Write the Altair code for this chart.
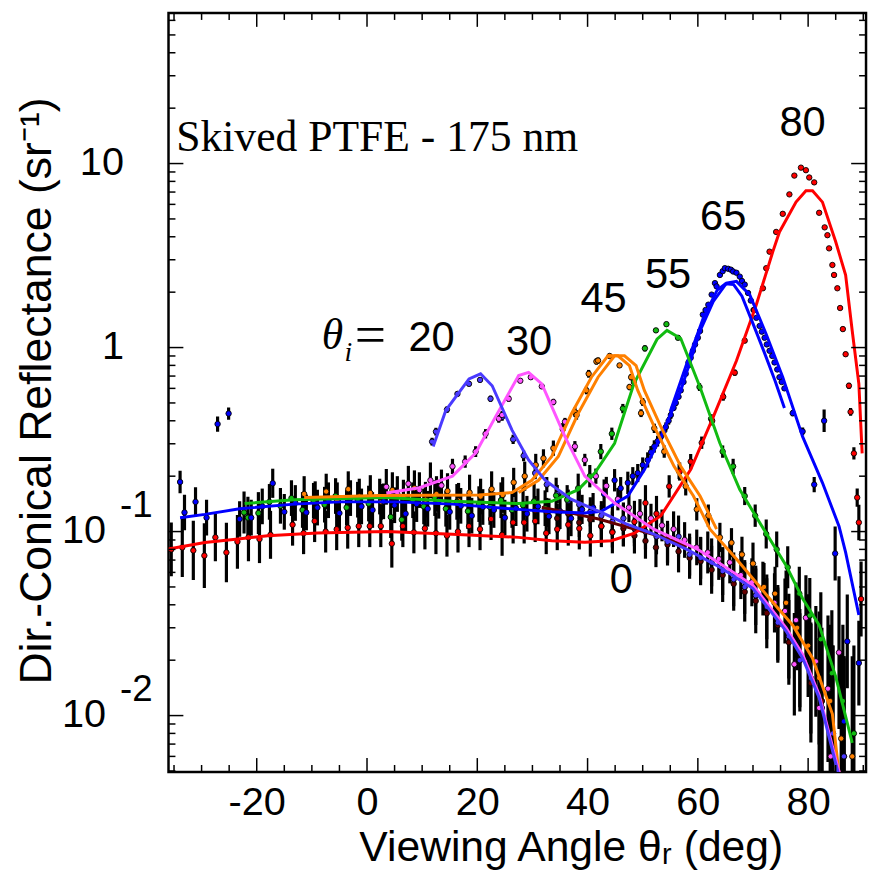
import altair as alt
import pandas as pd

# ---------------- data ----------------
# 80 deg incidence
X80 = [-35.5,-33.5,-31.5,-29.5,-27.5,-25.5,-23.5,-21.5,-19.5,-17.5,-13.5,-11.5,-9.5,-7.5,-5.5,-3.5,-1.5,0.5,2.5,4.5,
       6.5,8.5,10.5,12.5,14.5,16.5,18.5,20.5,22.5,24.5,26.5,28.5,30.5,32.5,34.5,36.5,38.5,40.5,42.5,44.5,
       46.5,48.5,50.5,52.5,54.8,56.7,58.7,60.7,62.6,64.6,66.7,68.5,70.2,71.8,72.4,73.0,74.2,75.4,76.6,77.5,
       78.7,79.6,80.2,81.1,82.0,83.0,83.5,83.8,84.4,84.7,85.3,85.8,86.3,86.8,87.4,87.7,88.3,88.9,89.2,89.6]
V80 = [0.080,0.082,0.079,0.074,0.093,0.077,0.088,0.093,0.091,0.096,0.109,0.098,0.114,0.100,0.103,0.105,0.107,0.107,0.107,0.086,
       0.107,0.099,0.104,0.098,0.095,0.100,0.107,0.103,0.117,0.096,0.112,0.112,0.114,0.098,0.103,0.109,0.104,0.095,0.107,0.099,
       0.108,0.113,0.143,0.125,0.176,0.212,0.240,0.304,0.400,0.540,0.730,1.09,1.60,2.10,2.70,3.32,4.25,5.33,6.80,8.60,
       9.50,9.20,8.40,7.90,5.40,4.50,4.08,3.46,2.81,2.48,2.10,1.64,1.26,0.92,0.62,0.447,0.266,0.153,0.112,0.043]
E80 = [1.40,1.45,1.45,1.50,1.35,1.45,1.40,1.35,1.35,1.35,1.30,1.30,1.30,1.30,1.30,1.30,1.30,1.30,1.30,1.35,
       1.30,1.30,1.30,1.30,1.30,1.30,1.30,1.30,1.30,1.30,1.30,1.30,1.30,1.30,1.30,1.30,1.30,1.30,1.30,1.30,
       1.30,1.30,1.25,1.25,1.15,1.12,1.10,1.08,1.06,1.05,1.04,1.03,1.02,1.02,1.02,1.02,1.02,1.02,1.02,1.02,
       1.02,1.02,1.02,1.02,1.02,1.02,1.02,1.02,1.02,1.02,1.02,1.02,1.03,1.03,1.04,1.05,1.08,1.12,1.25,1.6]
FX80 = [-36.0,-29.4,-23.4,-18.0,-9.0,3.5,15.5,27.5,33.5,39.5,44.3,48.5,53.3,58.7,62.8,67.0,70.6,73.6,74.8,77.8,
        79.6,80.8,82.6,85.0,86.8,88.0,89.2,89.8]
FV80 = [0.0804,0.0873,0.0911,0.0948,0.0983,0.100,0.0968,0.0930,0.0892,0.0874,0.0892,0.098,0.122,0.217,0.420,0.848,1.71,3.32,4.25,6.17,
        7.12,7.12,6.17,3.76,2.48,1.23,0.635,0.266]

# 65 deg incidence
X65 = [-33.9,-33.1,-31.1,-29.1,-27.1,-25.1,-23.1,-21.0,-19.0,-17.1,-15.0,-13.0,-11.0,-9.0,-7.0,-5.0,-3.0,-1.0,1.0,3.0,
       5.0,7.0,9.0,11.0,13.0,15.0,17.0,19.0,21.0,23.0,25.0,27.0,29.0,31.0,33.0,35.0,37.0,39.0,41.0,43.0,
       44.9,46.0,47.3,48.2,49.1,50.0,50.9,51.5,52.1,52.7,53.3,53.8,54.2,54.7,55.1,55.6,56.0,56.5,56.9,57.4,
       57.8,58.3,58.7,59.1,59.5,60.0,60.4,60.9,61.4,61.9,62.5,63.1,63.4,64.0,64.5,64.9,65.5,66.0,66.4,67.0,
       67.6,68.0,68.5,69.1,69.6,70.1,70.6,71.2,71.6,72.1,72.5,73.0,73.5,73.9,74.4,74.8,75.2,75.7,77.2,79.0,
       81.1,82.9,84.9,86.5,87.1,89.2]
V65 = [0.186,0.127,0.145,0.119,0.384,0.438,0.117,0.119,0.137,0.183,0.128,0.143,0.127,0.135,0.148,0.126,0.152,0.137,0.131,0.146,
       0.139,0.125,0.141,0.133,0.147,0.128,0.138,0.122,0.136,0.131,0.119,0.134,0.125,0.137,0.121,0.129,0.118,0.132,0.135,0.160,
       0.190,0.172,0.184,0.200,0.208,0.230,0.245,0.270,0.290,0.310,0.328,0.350,0.370,0.400,0.430,0.470,0.500,0.540,0.585,0.650,
       0.720,0.800,0.880,0.960,1.04,1.13,1.23,1.51,1.60,1.71,1.94,2.24,2.15,2.48,2.60,2.70,2.68,2.65,2.59,2.55,
       2.43,2.30,2.20,1.98,1.80,1.60,1.45,1.31,1.22,1.13,1.04,0.96,0.90,0.83,0.76,0.69,0.65,0.60,0.44,0.35,
       0.18,0.40,0.076,0.0093,0.0253,0.0193]
E65 = [1.15,1.25,1.20,1.25,1.10,1.08,1.25,1.25,1.25,1.20,1.25,1.25,1.25,1.25,1.25,1.25,1.25,1.25,1.25,1.25,
       1.25,1.25,1.25,1.25,1.25,1.25,1.25,1.25,1.25,1.25,1.25,1.25,1.25,1.25,1.25,1.25,1.25,1.20,1.20,1.20,
       1.15,1.15,1.15,1.12,1.12,1.10,1.10,1.08,1.08,1.07,1.07,1.06,1.06,1.05,1.05,1.04,1.04,1.03,1.03,1.03,
       1.02,1.02,1.02,1.02,1.02,1.02,1.02,1.02,1.02,1.02,1.02,1.02,1.02,1.02,1.02,1.02,1.02,1.02,1.02,1.02,
       1.02,1.02,1.02,1.02,1.02,1.02,1.02,1.02,1.02,1.02,1.02,1.02,1.02,1.02,1.02,1.02,1.03,1.03,1.04,1.05,
       1.10,1.15,1.40,2.20,1.80,1.70]
FX65 = [-33.9,-29.4,-23.1,-13.2,-4.9,5.3,15.5,27.5,33.5,39.5,42.5,47.3,50.3,53.3,56.9,60.4,62.8,65.2,67.0,69.4,
        72.4,75.4,79.0,82.6,85.6,86.8,89.2]
FV65 = [0.119,0.124,0.133,0.141,0.145,0.145,0.141,0.132,0.128,0.126,0.129,0.156,0.217,0.328,0.585,1.23,1.78,2.24,2.29,1.94,
        1.18,0.69,0.328,0.184,0.107,0.077,0.0352]
FX65B = [55.0,58.0,61.0,63.5,65.0,66.5,68.0,70.0,72.0,74.0,75.7]
FV65B = [0.45,0.82,1.45,2.05,2.22,2.20,1.90,1.35,0.95,0.66,0.47]

# 55 deg incidence
X55 = [-22.3,-21.6,-19.7,-17.7,-15.7,-13.7,-11.7,-9.7,-7.7,-5.7,-3.7,-1.7,0.3,2.3,4.3,6.3,8.3,10.3,12.3,14.3,
       16.3,18.3,20.3,22.3,24.3,26.3,28.3,30.3,32.3,34.3,36.3,38.3,40.4,42.4,44.4,46.4,48.4,50.4,52.4,54.3,
       56.4,58.3,60.3,62.4,64.5,66.4,68.5,70.4,72.4,74.3,76.3,78.4,80.3,82.3,84.3,86.3,88.3]
V55 = [0.127,0.119,0.126,0.145,0.138,0.152,0.131,0.147,0.140,0.156,0.135,0.149,0.142,0.155,0.120,0.116,0.148,0.137,0.152,0.133,
       0.145,0.129,0.141,0.136,0.148,0.131,0.139,0.146,0.134,0.157,0.149,0.172,0.200,0.272,0.340,0.466,0.650,0.990,1.24,1.34,
       1.13,0.83,0.61,0.41,0.272,0.226,0.156,0.122,0.097,0.080,0.064,0.046,0.035,0.026,0.017,0.012,0.008]
E55 = [1.30,1.30,1.30,1.25,1.25,1.25,1.25,1.25,1.25,1.25,1.25,1.25,1.25,1.25,1.30,1.30,1.25,1.25,1.25,1.25,
       1.25,1.25,1.25,1.25,1.25,1.25,1.25,1.25,1.25,1.25,1.20,1.20,1.15,1.10,1.08,1.06,1.05,1.04,1.03,1.03,
       1.03,1.04,1.05,1.06,1.08,1.10,1.12,1.15,1.20,1.25,1.30,1.40,1.60,1.80,2.20,2.60,3.00]
FX55 = [-22.2,-13.2,3.5,15.5,27.5,33.5,38.3,41.3,44.9,48.4,52.6,54.4,56.9,60.4,64.0,67.6,71.2,76.0,79.0,82.0,85.0,88.0]
FV55 = [0.142,0.149,0.153,0.146,0.142,0.146,0.169,0.208,0.302,0.635,1.11,1.24,1.12,0.609,0.302,0.169,0.112,0.0654,0.0433,0.031,0.0163,0.0071]

# 45 deg incidence
X45 = [-11.4,-9.4,-7.4,-5.4,-3.4,-1.4,0.6,2.6,4.6,6.6,8.6,10.6,12.6,14.6,16.6,18.6,20.6,22.6,24.6,26.6,
       28.6,30.6,32.0,33.8,35.5,37.7,38.0,39.8,40.2,41.6,41.9,44.0,45.8,47.6,47.9,49.7,50.0,52.1,53.9,56.6,
       57.8,59.8,61.9,64.0,66.1,68.0,70.0,72.0,74.0,76.0,78.0,80.0,82.0,84.0,86.0,88.0]
V45 = [0.160,0.150,0.165,0.148,0.170,0.155,0.162,0.145,0.168,0.153,0.172,0.149,0.160,0.166,0.147,0.163,0.155,0.170,0.158,0.185,
       0.200,0.230,0.250,0.284,0.360,0.446,0.430,0.585,0.720,0.840,0.850,0.900,0.800,0.610,0.690,0.440,0.506,0.364,0.272,0.212,
       0.176,0.132,0.122,0.093,0.087,0.075,0.067,0.050,0.046,0.041,0.030,0.024,0.016,0.012,0.0075,0.006]
E45 = [1.25,1.25,1.25,1.25,1.25,1.25,1.25,1.25,1.25,1.25,1.25,1.25,1.25,1.25,1.25,1.25,1.25,1.25,1.25,1.20,
       1.20,1.15,1.12,1.10,1.08,1.06,1.06,1.05,1.05,1.04,1.04,1.03,1.03,1.04,1.04,1.05,1.05,1.06,1.08,1.10,
       1.12,1.15,1.15,1.20,1.20,1.25,1.30,1.35,1.40,1.50,1.70,1.90,2.30,2.60,3.00,3.50]
FX45 = [-11.4,2.3,20.3,26.3,29.9,33.5,37.1,40.7,43.7,45.5,47.6,49.1,52.1,55.7,59.2,62.2,67.0,73.0,77.2,80.8,84.4,85.6]
FV45 = [0.153,0.157,0.158,0.163,0.190,0.256,0.438,0.690,0.902,0.902,0.797,0.585,0.371,0.226,0.156,0.103,0.071,0.0433,0.031,0.0205,0.0102,0.0048]
FX45B = [27.5,31.1,34.7,38.3,41.9,44.9,46.7,48.8,50.3,53.3,56.9,60.4,63.4]
FV45B = [0.163,0.190,0.256,0.438,0.690,0.902,0.902,0.797,0.585,0.371,0.226,0.156,0.103]

# 30 deg incidence
X30 = [3.5,5.5,7.5,9.5,11.5,13.5,15.5,17.8,19.7,21.5,23.9,24.5,25.7,27.8,29.7,31.7,33.8,35.9,37.7,39.5,
       41.5,43.4,45.5,47.5,49.5,51.5,53.5,55.6,57.6,59.8,61.8,63.8,65.8,67.8,69.8,71.8,73.9,75.8,77.8,79.6,
       77.5,81.4,82.0,83.6,85.6,84.1]
V30 = [0.175,0.160,0.182,0.168,0.190,0.178,0.226,0.240,0.272,0.340,0.410,0.430,0.527,0.660,0.690,0.615,0.506,0.395,0.290,0.245,
       0.200,0.177,0.150,0.135,0.125,0.118,0.108,0.103,0.090,0.082,0.077,0.071,0.068,0.058,0.053,0.049,0.041,0.037,0.033,0.034,
       0.019,0.0197,0.011,0.014,0.022,0.006]
E30 = [1.25,1.25,1.25,1.25,1.25,1.22,1.10,1.08,1.07,1.06,1.05,1.05,1.04,1.03,1.03,1.03,1.04,1.05,1.07,1.08,
       1.10,1.12,1.15,1.20,1.20,1.20,1.22,1.25,1.25,1.25,1.30,1.30,1.30,1.35,1.35,1.40,1.45,1.50,1.60,1.70,
       1.90,2.00,2.40,2.50,2.60,3.00]
FX30 = [3.5,9.5,15.5,19.7,23.3,27.5,29.3,31.7,35.9,39.5,44.9,52.0,59.8,64.0,70.0,76.0,79.0,82.0,85.0,86.0]
FV30 = [0.162,0.173,0.200,0.267,0.420,0.704,0.733,0.635,0.328,0.200,0.143,0.103,0.0806,0.067,0.051,0.030,0.0215,0.013,0.0058,0.0045]

# 20 deg incidence
X20 = [11.8,12.5,14.5,16.4,18.5,20.5,22.4,24.5,26.5,28.4,30.5,32.6,34.5,36.5,38.5,40.5,42.5,44.5,46.5,48.5,
       50.5,52.5,54.5,56.5,58.5,60.5,62.5,64.5,66.5,68.5,70.5,72.5,74.5,76.5,78.5,80.5,82.5,84.5,86.5]
V20 = [0.308,0.349,0.460,0.560,0.635,0.667,0.527,0.420,0.317,0.258,0.208,0.180,0.160,0.147,0.140,0.128,0.122,0.113,0.118,0.104,
       0.100,0.094,0.088,0.094,0.075,0.072,0.068,0.061,0.055,0.050,0.045,0.039,0.032,0.027,0.020,0.016,0.011,0.008,0.006]
E20 = [1.05,1.05,1.04,1.03,1.03,1.03,1.04,1.05,1.06,1.07,1.08,1.10,1.12,1.15,1.20,1.20,1.20,1.22,1.22,1.25,
       1.25,1.25,1.30,1.30,1.30,1.30,1.35,1.35,1.40,1.40,1.45,1.50,1.60,1.70,1.80,2.00,2.50,3.00,3.50]
FX20 = [12.0,14.3,18.5,20.6,22.7,26.3,29.3,32.3,37.0,42.5,47.0,52.0,58.0,64.0,70.0,76.0,79.0,82.0,85.0,85.6]
FV20 = [0.290,0.456,0.676,0.720,0.620,0.356,0.245,0.190,0.150,0.127,0.110,0.097,0.080,0.064,0.049,0.0288,0.0205,0.0125,0.0055,0.0047]

# 0 deg incidence
X0 = [30.5,32.6,34.5,36.5,38.5,40.5,42.5,44.5,46.5,48.5,50.5,52.4,54.5,56.5,58.5,60.5,62.5,64.5,66.5,68.5,
      70.5,72.5,74.5,76.5,78.5,80.5,82.5,84.5,86.5]
V0 = [0.130,0.127,0.118,0.125,0.112,0.116,0.107,0.100,0.104,0.095,0.089,0.082,0.085,0.078,0.072,0.069,0.062,0.058,0.052,0.047,
      0.042,0.036,0.031,0.025,0.020,0.015,0.012,0.008,0.006]
E0 = [1.20,1.20,1.20,1.20,1.20,1.22,1.22,1.22,1.25,1.25,1.25,1.28,1.30,1.30,1.30,1.35,1.35,1.40,1.40,1.45,
      1.50,1.55,1.60,1.70,1.90,2.10,2.50,3.00,3.50]
FX0 = [31.7,36.0,42.0,48.0,53.8,58.0]
FV0 = [0.135,0.128,0.117,0.104,0.093,0.083]

SERIES = ["0", "20", "30", "45", "55", "65", "80"]
COLORS = ["#660000", "#4a3aff", "#ff55ff", "#ff8000", "#11bb11", "#0000ff", "#ff0000"]

XMAJ = [-20, 0, 20, 40, 60, 80]
XMIN = [-35, -30, -25, -15, -10, -5, 5, 10, 15, 25, 30, 35, 45, 50, 55, 65, 70, 75, 85, 90]
YMAJ = [0.01, 0.1, 1, 10]
YMIN = [0.005, 0.006, 0.007, 0.008, 0.009, 0.02, 0.03, 0.04, 0.05, 0.06, 0.07, 0.08, 0.09,
        0.2, 0.3, 0.4, 0.5, 0.6, 0.7, 0.8, 0.9, 2, 3, 4, 5, 6, 7, 8, 9, 20, 30, 40, 50, 60]
YLAB_PLAIN = [(10, "10"), (1, "1")]
YLAB_EXP = [(0.1, "10", "-1"), (0.01, "10", "-2")]

ANNOT = [("80", 79.0, 16.6), ("65", 64.6, 5.11), ("55", 54.6, 2.49), ("45", 42.9, 1.83),
         ("30", 29.4, 1.07), ("20", 11.7, 1.13), ("0", 46.1, 0.0547)]

# ---------------- chart ----------------
W, H = 704, 766
XS = alt.Scale(domain=[-36, 90.5], nice=False, zero=False)
YS = alt.Scale(type="log", domain=[0.00494, 65.8], nice=False)
XAX = alt.Axis(values=XMAJ, ticks=False, domain=False, grid=False, labelFontSize=40,
               labelFont="Liberation Sans", labelColor="black", labelPadding=11,
               labelExpr="'' + datum.value", title="Viewing Angle θᵣ (deg)",
               titleFont="Liberation Sans", titleFontSize=43, titleFontWeight="normal",
               titleColor="black", titleX=406, titleY=76, titleBaseline="middle", titleAlign="center")
YAX = alt.Axis(labels=False, ticks=False, domain=False, grid=False,
               title="Dir.-Conical Reflectance (sr⁻¹)", titleFont="Liberation Sans",
               titleFontSize=45, titleFontWeight="normal", titleColor="black",
               titleX=-133, titleY=381, titleAngle=-90, titleBaseline="middle", titleAlign="center")


def X(f):
    return alt.X(f, type="quantitative", scale=XS, axis=XAX)


def Y(f):
    return alt.Y(f, type="quantitative", scale=YS, axis=YAX)


pts = {"0": (X0, V0, E0), "20": (X20, V20, E20), "30": (X30, V30, E30), "45": (X45, V45, E45),
       "55": (X55, V55, E55), "65": (X65, V65, E65), "80": (X80, V80, E80)}
fits = {"0": [(FX0, FV0)], "20": [(FX20, FV20)], "30": [(FX30, FV30)],
        "45": [(FX45, FV45), (FX45B, FV45B)], "55": [(FX55, FV55)],
        "65": [(FX65, FV65), (FX65B, FV65B)], "80": [(FX80, FV80)]}

rows = []
for s in SERIES:
    xs, vs, es = pts[s]
    for x, v, e in zip(xs, vs, es):
        rows.append({"x": x, "v": v, "lo": v / e, "hi": v * e, "s": s})
P = pd.DataFrame(rows)

layers = []
layers.append(alt.Chart(P).mark_rule(color="black", strokeWidth=3.2, clip=True).encode(
    x=X("x"), y=Y("lo"), y2="hi"))
for s, c in zip(SERIES, COLORS):
    layers.append(alt.Chart(P[P.s == s]).mark_circle(size=30, opacity=1, color=c, stroke="black",
                                                     strokeWidth=0.9, clip=True).encode(x=X("x"), y=Y("v")))
line_order = ["0", "80", "65", "55", "45", "30", "20"]
for s in line_order:
    c = COLORS[SERIES.index(s)]
    for xs, vs in fits[s]:
        d = pd.DataFrame({"x": xs, "v": vs, "o": list(range(len(xs)))})
        layers.append(alt.Chart(d).mark_line(color=c, strokeWidth=3, clip=True).encode(
            x=X("x"), y=Y("v"), order="o:Q"))

# inward ticks on all four sides
dxM = pd.DataFrame({"t": XMAJ}); dxm = pd.DataFrame({"t": XMIN})
dyM = pd.DataFrame({"t": YMAJ}); dym = pd.DataFrame({"t": YMIN})
for d, L in [(dxM, 14), (dxm, 7)]:
    layers.append(alt.Chart(d).mark_rule(color="black", strokeWidth=1.5).encode(
        x=X("t"), y=alt.value(H), y2=alt.value(H - L)))
    layers.append(alt.Chart(d).mark_rule(color="black", strokeWidth=1.5).encode(
        x=X("t"), y=alt.value(0), y2=alt.value(L)))
for d, L in [(dyM, 15), (dym, 7)]:
    layers.append(alt.Chart(d).mark_rule(color="black", strokeWidth=1.5).encode(
        y=Y("t"), x=alt.value(0), x2=alt.value(L)))
    layers.append(alt.Chart(d).mark_rule(color="black", strokeWidth=1.5).encode(
        y=Y("t"), x=alt.value(W), x2=alt.value(W - L)))

# y tick labels
dpl = pd.DataFrame({"t": [a for a, b in YLAB_PLAIN], "lab": [b for a, b in YLAB_PLAIN]})
dex = pd.DataFrame({"t": [a for a, b, c in YLAB_EXP], "lab": [b for a, b, c in YLAB_EXP],
                    "sup": [c for a, b, c in YLAB_EXP]})
layers.append(alt.Chart(dpl).mark_text(align="right", baseline="middle", fontSize=40,
                                       font="Liberation Sans", color="black").encode(
    y=Y("t"), x=alt.value(-45), text="lab:N"))
layers.append(alt.Chart(dex).mark_text(align="right", baseline="middle", fontSize=40,
                                       font="Liberation Sans", color="black").encode(
    y=Y("t"), x=alt.value(-63), text="lab:N"))
layers.append(alt.Chart(dex).mark_text(align="left", baseline="middle", fontSize=37, dy=-26,
                                       font="Liberation Sans", color="black").encode(
    y=Y("t"), x=alt.value(-49), text="sup:N"))

# annotations
da = pd.DataFrame({"lab": [a for a, b, c in ANNOT], "x": [b for a, b, c in ANNOT],
                   "v": [c for a, b, c in ANNOT]})
layers.append(alt.Chart(da).mark_text(align="center", baseline="middle", fontSize=42,
                                      font="Liberation Sans", color="black").encode(
    x=X("x"), y=Y("v"), text="lab:N"))
layers.append(alt.Chart(pd.DataFrame({"lab": ["Skived PTFE - 175 nm"], "x": [-34.6], "v": [11.75]}))
              .mark_text(align="left", baseline="alphabetic", fontSize=44, font="Liberation Serif",
                         color="black").encode(x=X("x"), y=Y("v"), text="lab:N"))
layers.append(alt.Chart(pd.DataFrame({"lab": ["θ"], "x": [-6.25], "v": [1.156]}))
              .mark_text(align="center", baseline="middle", fontSize=44, font="Liberation Serif",
                         fontStyle="italic", color="black").encode(x=X("x"), y=Y("v"), text="lab:N"))
layers.append(alt.Chart(pd.DataFrame({"lab": ["i"], "x": [-3.4], "v": [0.93]}))
              .mark_text(align="center", baseline="middle", fontSize=28, font="Liberation Serif",
                         fontStyle="italic", color="black").encode(x=X("x"), y=Y("v"), text="lab:N"))
layers.append(alt.Chart(pd.DataFrame({"lab": ["="], "x": [0.6], "v": [1.156]}))
              .mark_text(align="center", baseline="middle", fontSize=56, font="Liberation Serif",
                         color="black").encode(x=X("x"), y=Y("v"), text="lab:N"))

chart = alt.layer(*layers).properties(
    width=W, height=H,
    autosize=alt.AutoSizeParams(type="none"),
    padding={"left": 162, "top": 1, "right": 3, "bottom": 101},
    background="white",
).configure_view(stroke="black", strokeWidth=2.5)

chart.save("out.html", embed_options={"renderer": "svg", "actions": False})
